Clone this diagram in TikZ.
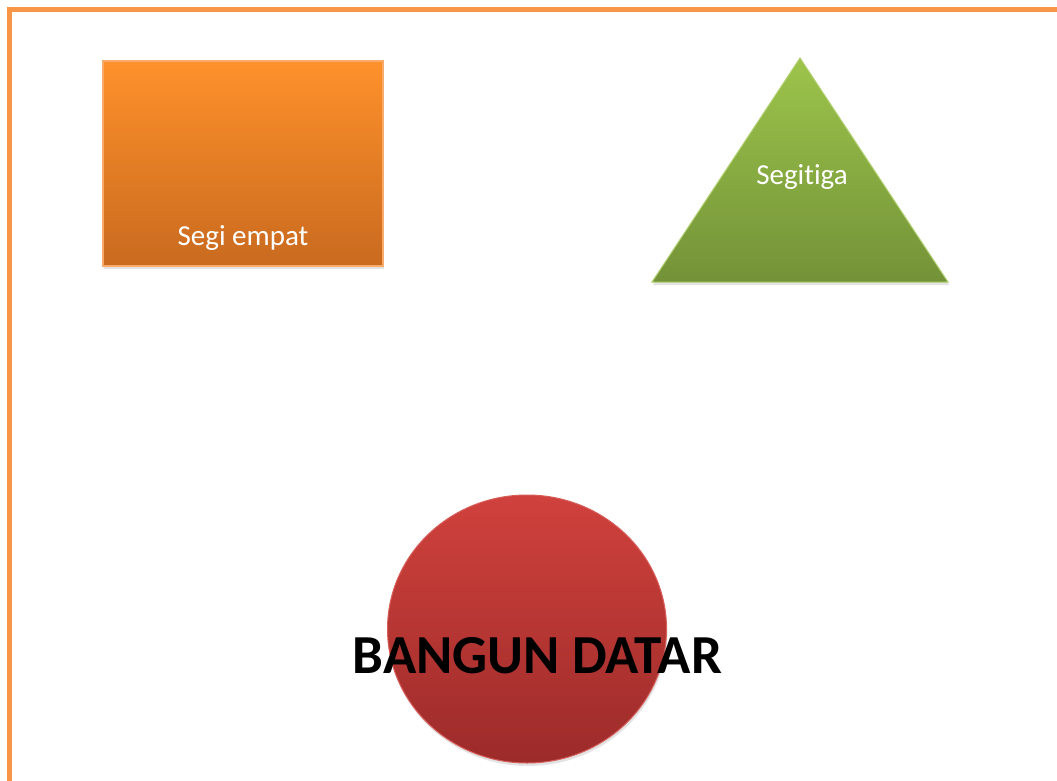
\documentclass[tikz,border=0pt]{standalone}
\usepackage{fontspec}
\setmainfont[Ligatures=NoCommon]{Carlito}
\usetikzlibrary{shapes.geometric,shadows}
\definecolor{frameor}{HTML}{F79646}
\definecolor{recttop}{HTML}{FE912B}
\definecolor{rectbot}{HTML}{C96A1F}
\definecolor{tritop}{HTML}{9DC44B}
\definecolor{tribot}{HTML}{739238}
\definecolor{circtop}{HTML}{D0413C}
\definecolor{circbot}{HTML}{9C2B2A}
\tikzset{
  softshadow/.style={drop shadow={opacity=0.22,shadow xshift=1pt,shadow yshift=-3pt}},
  whitelabel/.style={text=white,font=\fontsize{29}{34}\selectfont,inner sep=0pt},
}
\begin{document}
\begin{tikzpicture}[x=1pt,y=-1pt]
\useasboundingbox (0,0) rectangle (1057,781);
\clip (0,0) rectangle (1057,781);
\fill[white] (0,0) rectangle (1057,781);
% frame
\draw[frameor,line width=5.5pt] (9.3,1000) -- (9.3,9.3) -- (1100,9.3);
% rectangle
\path[softshadow,top color=recttop,bottom color=rectbot,draw=frameor!80!white,line width=1.2pt]
  (103,61) rectangle (383,266);
\node[whitelabel,anchor=base] (segiempat) at (243,245) {Segi empat};
% triangle
\path[softshadow,top color=tritop,bottom color=tribot,draw=tritop!80!white,line width=1pt]
  (800,58) -- (948,282) -- (652,282) -- cycle;
\node[whitelabel,anchor=base] (segitiga) at (802,184) {Segitiga};
% circle
\node[ellipse,minimum width=279pt,minimum height=268pt,inner sep=0pt,
      top color=circtop,bottom color=circbot,draw=circtop!85!white,line width=1pt,softshadow]
  (circ) at (527,629) {};
\node[anchor=base,inner sep=0pt,font=\fontsize{55}{62}\selectfont\bfseries] (bangun) at (537.5,673) {BANGUN DATAR};
\end{tikzpicture}
\end{document}
